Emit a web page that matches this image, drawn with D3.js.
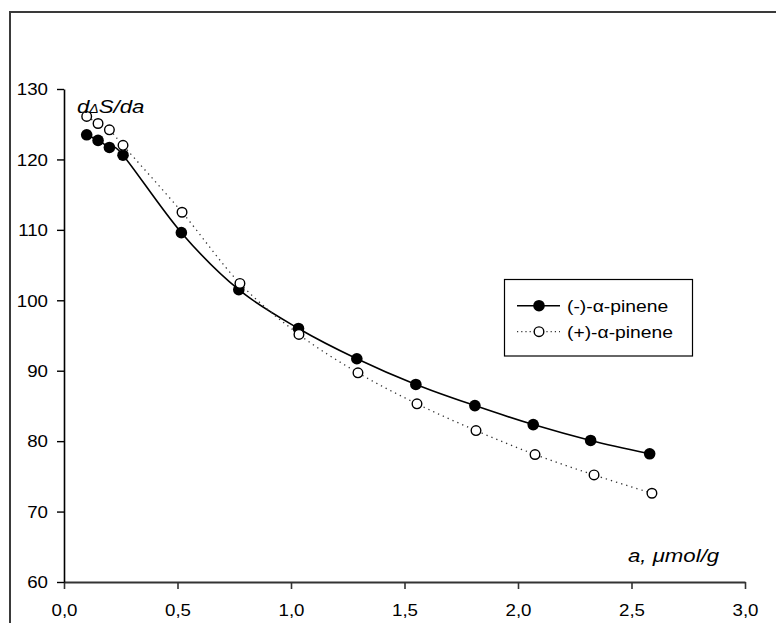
<!DOCTYPE html>
<html>
<head>
<meta charset="utf-8">
<script src="https://cdn.jsdelivr.net/npm/d3@7"></script>
<style>
  html, body { margin: 0; padding: 0; background: #fff; }
  svg { display: block; }
  text { font-family: Arial, "Liberation Sans", sans-serif; fill: #000; }
</style>
</head>
<body>
<svg id="chart" width="776" height="623"></svg>
<script>
// Differential entropy vs. adsorbed amount for the two pinene enantiomers
const minusA   = [0.10, 0.15, 0.20, 0.26, 0.517, 0.77, 1.033, 1.29, 1.55, 1.81, 2.067, 2.32, 2.58];
const minusVal = [123.5, 122.7, 121.7, 120.6, 109.6, 101.5, 96.0, 91.7, 88.05, 85.05, 82.35, 80.1, 78.2];
const plusA    = [0.10, 0.15, 0.20, 0.26, 0.52, 0.775, 1.035, 1.295, 1.555, 1.815, 2.075, 2.335, 2.59];
const plusVal  = [126.1, 125.1, 124.2, 122.0, 112.5, 102.4, 95.15, 89.7, 85.3, 81.5, 78.1, 75.2, 72.6];
const seriesNames = ["(-)-\u03b1-pinene", "(+)-\u03b1-pinene"];
const xTicks = [0, 0.5, 1.0, 1.5, 2.0, 2.5, 3.0];
const yTicks = [60, 70, 80, 90, 100, 110, 120, 130];

const SX = 1.17; // horizontal text stretch

const svg = d3.select("#chart");

// outer frame
svg.append("rect")
  .attr("x", 10).attr("y", 12)
  .attr("width", 800).attr("height", 700)
  .attr("fill", "none").attr("stroke", "#3a3a3a").attr("stroke-width", 2);

const x = d3.scaleLinear().domain([0, 3]).range([64, 745]);
const y = d3.scaleLinear().domain([60, 130]).range([582, 89]);

const fmt = d => d3.format(".1f")(d).replace(".", ",");

// x axis
const gx = svg.append("g").attr("transform", `translate(0,${y(60)})`)
  .call(d3.axisBottom(x).tickValues(xTicks).tickFormat(fmt).tickSize(7).tickSizeOuter(0));
gx.select(".domain").attr("stroke", "#333").attr("stroke-width", 2);
gx.selectAll(".tick line").attr("stroke", "#333").attr("stroke-width", 1.6);
gx.selectAll(".tick text")
  .attr("y", 34.5).attr("dy", null)
  .attr("font-size", 16)
  .attr("transform", `scale(${SX},1)`);

// y axis
const gy = svg.append("g").attr("transform", `translate(${x(0)},0)`)
  .call(d3.axisLeft(y).tickValues(yTicks).tickFormat(d3.format("d")).tickSize(7).tickSizeOuter(0));
gy.select(".domain").attr("stroke", "#000").attr("stroke-width", 1.6);
gy.selectAll(".tick line").attr("stroke", "#000").attr("stroke-width", 1.4);
gy.selectAll(".tick text")
  .attr("x", -16 / SX).attr("dy", "0.36em")
  .attr("font-size", 16)
  .attr("transform", `scale(${SX},1)`);

// smoothed curves through the measured points
const line = d3.line().x(d => x(d[0])).y(d => y(d[1])).curve(d3.curveCatmullRom.alpha(0));
const minusPts = minusA.map((a, i) => [a, minusVal[i]]);
const plusPts  = plusA.map((a, i) => [a, plusVal[i]]);

svg.append("path").datum(minusPts).attr("d", line)
  .attr("fill", "none").attr("stroke", "#000").attr("stroke-width", 1.6);
svg.append("g").selectAll("circle").data(minusPts).join("circle")
  .attr("cx", d => x(d[0])).attr("cy", d => y(d[1])).attr("r", 5.8).attr("fill", "#000");

svg.append("path").datum(plusPts).attr("d", line)
  .attr("fill", "none").attr("stroke", "#333").attr("stroke-width", 1.3)
  .attr("stroke-dasharray", "1.3 4");
svg.append("g").selectAll("circle").data(plusPts).join("circle")
  .attr("cx", d => x(d[0])).attr("cy", d => y(d[1])).attr("r", 4.8)
  .attr("fill", "#fff").attr("stroke", "#000").attr("stroke-width", 1.4);

// axis titles
const yTitle = svg.append("text")
  .attr("transform", `translate(77,113) scale(${SX},1)`)
  .attr("font-size", 19).attr("font-style", "italic");
yTitle.append("tspan").text("d");
yTitle.append("tspan").attr("font-size", 12).text("\u0394");
yTitle.append("tspan").text("S/da");

const xTitle = svg.append("text")
  .attr("transform", `translate(628,562) scale(${SX},1)`)
  .attr("font-size", 19).attr("font-style", "italic");
xTitle.append("tspan").text("a, ");
xTitle.append("tspan").text("\u03bc");
xTitle.append("tspan").text("mol/g");

// legend
const lg = svg.append("g");
lg.append("rect").attr("x", 504.5).attr("y", 279.5).attr("width", 188).attr("height", 76.5)
  .attr("fill", "#fff").attr("stroke", "#000").attr("stroke-width", 1.2);
const rows = [305.7, 331.7];
lg.append("line").attr("x1", 517).attr("x2", 560).attr("y1", rows[0]).attr("y2", rows[0])
  .attr("stroke", "#000").attr("stroke-width", 1.6);
lg.append("circle").attr("cx", 539).attr("cy", rows[0]).attr("r", 5.8).attr("fill", "#000");
lg.append("line").attr("x1", 517).attr("x2", 560).attr("y1", rows[1]).attr("y2", rows[1])
  .attr("stroke", "#333").attr("stroke-width", 1.2).attr("stroke-dasharray", "1.2 3");
lg.append("circle").attr("cx", 539).attr("cy", rows[1]).attr("r", 4.8)
  .attr("fill", "#fff").attr("stroke", "#000").attr("stroke-width", 1.4);
seriesNames.forEach((name, i) => {
  lg.append("text")
    .attr("transform", `translate(567,${rows[i] + 6.5}) scale(${SX},1)`)
    .attr("font-size", 16.5)
    .text(name);
});
</script>
</body>
</html>
